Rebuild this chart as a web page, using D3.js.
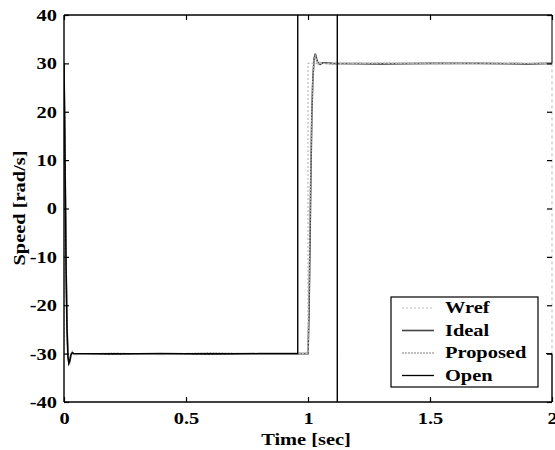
<!DOCTYPE html>
<html><head><meta charset="utf-8">
<script src="https://cdn.jsdelivr.net/npm/d3@7"></script>
<style>body{margin:0;background:#fff}svg{display:block}</style>
</head><body>
<script>
const xTicks = [0, 0.5, 1, 1.5, 2];
const xTickLabels = ["0", "0.5", "1", "1.5", "2"];
const yTicks = [-40, -30, -20, -10, 0, 10, 20, 30, 40];
const yTickLabels = ["-40", "-30", "-20", "-10", "0", "10", "20", "30", "40"];
const seriesNames = ["Wref", "Ideal", "Proposed", "Open"];

const wrefT = [0, 0, 1.0, 1.0, 2];
const wrefV = [30, -30, -30, 30, 30];

const idealT = [0, 0.004, 0.008, 0.012, 0.016, 0.02, 0.024, 0.028, 0.034, 0.04, 0.2, 0.4, 0.6, 0.8, 0.95, 1.0, 1.004, 1.008, 1.012, 1.016, 1.02, 1.025, 1.03, 1.035, 1.04, 1.05, 1.06, 1.1, 1.3, 1.5, 1.7, 1.9, 2];
const idealV = [30, 12, -10, -24, -30.5, -32, -31.5, -30.3, -29.8, -30, -30.1, -30, -30.1, -30, -30, -30, -22, -8, 8, 20, 27, 31, 32, 31, 30.2, 29.8, 30.1, 30, 29.9, 30, 30, 29.9, 30];

const propT = [0, 0.004, 0.008, 0.012, 0.016, 0.02, 0.024, 0.028, 0.034, 0.04, 0.2, 0.4, 0.6, 0.8, 0.95, 0.998, 1.002, 1.006, 1.01, 1.014, 1.018, 1.024, 1.03, 1.036, 1.042, 1.05, 1.06, 1.1, 1.3, 1.5, 1.7, 1.9, 2];
const propV = [30, 14, -8, -22, -29.5, -31.5, -32.2, -30.8, -29.6, -30.2, -29.9, -30.2, -29.8, -30.1, -30, -30, -24, -12, 4, 16, 25, 30.5, 31.6, 30.6, 29.8, 30.2, 30, 29.8, 30.1, 29.9, 30.1, 30, 30];

const openT = [0, 0.004, 0.008, 0.012, 0.016, 0.02, 0.024, 0.028, 0.034, 0.04, 0.5, 0.958, 0.958, 1.12, 1.12, 2];
const openV = [30, 12, -10, -24, -30.5, -32, -31.5, -30.3, -29.8, -30, -30, -30, 200, 200, -200, -200];

const W = 555, H = 450;
const x = d3.scaleLinear().domain([0, 2]).range([64, 552]);
const y = d3.scaleLinear().domain([-40, 40]).range([402, 15]);
const STRETCH = 1.2;

const svg = d3.select("body").append("svg").attr("width", W).attr("height", H);
svg.append("defs").append("clipPath").attr("id", "clip")
  .append("rect").attr("x", 64).attr("y", 15).attr("width", 488).attr("height", 387);

const font = "'Liberation Serif', 'DejaVu Serif', serif";
const zip = (T, V) => T.map((t, i) => [t, V[i]]);
const line = d3.line().x(d => x(d[0])).y(d => y(d[1]));

function stretch(sel) {
  sel.each(function() {
    const w = this.getComputedTextLength();
    if (w > 0) d3.select(this).attr("textLength", w * STRETCH).attr("lengthAdjust", "spacingAndGlyphs");
  });
}

const g = svg.append("g").attr("clip-path", "url(#clip)");
g.append("path").attr("d", line(zip(idealT, idealV))).attr("fill", "none").attr("stroke", "#333").attr("stroke-width", 1.6);
g.append("path").attr("d", line(zip(propT, propV))).attr("fill", "none").attr("stroke", "#aaa").attr("stroke-width", 1.4).attr("stroke-dasharray", "2,1");
g.append("path").attr("d", line(zip(wrefT, wrefV))).attr("fill", "none").attr("stroke", "#bbb").attr("stroke-width", 1.2).attr("stroke-dasharray", "2,2");
g.append("path").attr("d", line(zip(openT, openV))).attr("fill", "none").attr("stroke", "#000").attr("stroke-width", 1.4);

// frame
const fr = svg.append("g");
fr.append("line").attr("x1", 64).attr("x2", 552).attr("y1", 15).attr("y2", 15).attr("stroke", "#000").attr("stroke-width", 1.4);
fr.append("line").attr("x1", 64).attr("x2", 552).attr("y1", 402).attr("y2", 402).attr("stroke", "#000").attr("stroke-width", 1.4);
fr.append("line").attr("x1", 64).attr("x2", 64).attr("y1", 15).attr("y2", 402).attr("stroke", "#000").attr("stroke-width", 1.4);
fr.append("line").attr("x1", 552).attr("x2", 552).attr("y1", 15).attr("y2", y(30)).attr("stroke", "#222").attr("stroke-width", 1.2);
fr.append("line").attr("x1", 552).attr("x2", 552).attr("y1", y(30)).attr("y2", y(-30)).attr("stroke", "#bbb").attr("stroke-width", 1).attr("stroke-dasharray", "3,3");
fr.append("line").attr("x1", 546).attr("x2", 552).attr("y1", y(-30)).attr("y2", y(-30)).attr("stroke", "#000").attr("stroke-width", 1.2);
fr.append("line").attr("x1", 552).attr("x2", 552).attr("y1", y(-30)).attr("y2", 402).attr("stroke", "#000").attr("stroke-width", 1.4);

// ticks
const xAxisB = d3.axisBottom(x).tickValues(xTicks).tickSize(-5).tickFormat((d, i) => xTickLabels[i]).tickPadding(10);
const xAxisT = d3.axisTop(x).tickValues(xTicks).tickSize(-5).tickFormat("");
const yAxisL = d3.axisLeft(y).tickValues(yTicks).tickSize(-5).tickFormat((d, i) => yTickLabels[i]).tickPadding(7);
const yAxisR = d3.axisRight(y).tickValues(yTicks).tickSize(-5).tickFormat("");

function style(sel) {
  sel.select(".domain").remove();
  sel.selectAll(".tick line").attr("stroke", "#000").attr("stroke-width", 1.2);
  sel.selectAll(".tick text").attr("font-family", font).attr("font-weight", "bold").attr("font-size", 17).attr("fill", "#000").call(stretch);
}
svg.append("g").attr("transform", "translate(0,402)").call(xAxisB).call(style);
svg.append("g").attr("transform", "translate(0,15)").call(xAxisT).call(style);
svg.append("g").attr("transform", "translate(64,0)").call(yAxisL).call(style);
svg.append("g").attr("transform", "translate(552,0)").call(yAxisR).call(style);

svg.append("text").attr("x", 306).attr("y", 445).attr("text-anchor", "middle")
  .attr("font-family", font).attr("font-weight", "bold").attr("font-size", 17).text("Time [sec]").call(stretch);
svg.append("text").attr("transform", "translate(25,208) rotate(-90)").attr("text-anchor", "middle")
  .attr("font-family", font).attr("font-weight", "bold").attr("font-size", 17).text("Speed [rad/s]").call(stretch);

// legend
const lg = svg.append("g");
lg.append("rect").attr("x", 391).attr("y", 297).attr("width", 147).attr("height", 90)
  .attr("fill", "#fff").attr("stroke", "#000").attr("stroke-width", 1.2);
const lgStyles = [
  {stroke: "#bbb", w: 1.2, dash: "2,2"},
  {stroke: "#444", w: 1.6, dash: null},
  {stroke: "#aaa", w: 1.3, dash: "2,1"},
  {stroke: "#000", w: 1.3, dash: null}
];
seriesNames.forEach((n, i) => {
  const yy = 308 + i * 22.5;
  const s = lgStyles[i];
  const l = lg.append("line").attr("x1", 402).attr("x2", 434).attr("y1", yy).attr("y2", yy)
    .attr("stroke", s.stroke).attr("stroke-width", s.w);
  if (s.dash) l.attr("stroke-dasharray", s.dash);
  lg.append("text").attr("x", 445).attr("y", yy + 5).attr("font-family", font)
    .attr("font-weight", "bold").attr("font-size", 17).text(n).call(stretch);
});
</script>
</body></html>
